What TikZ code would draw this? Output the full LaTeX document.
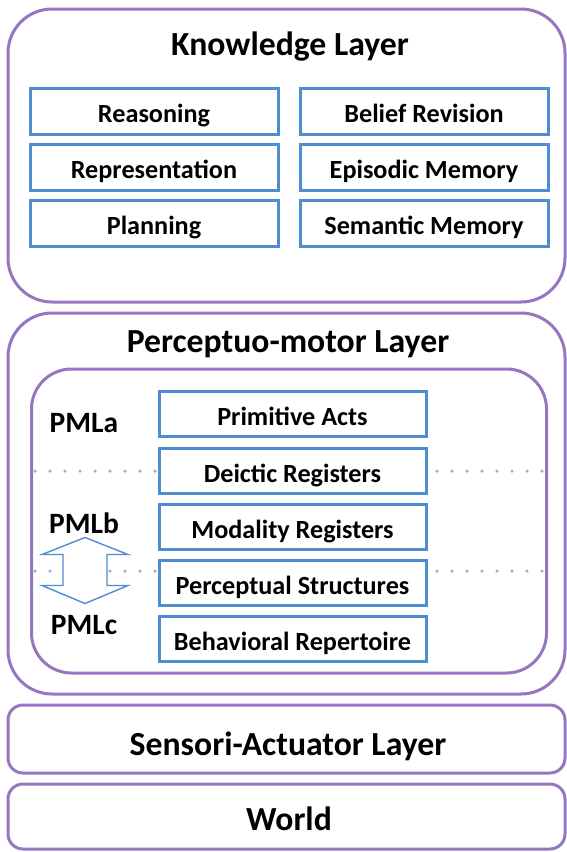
\documentclass[tikz,border=0pt]{standalone}
\usepackage{fontspec}
\usetikzlibrary{calc}
\setmainfont{Carlito}
\definecolor{layerpurple}{RGB}{150,118,192}
\definecolor{boxblue}{RGB}{79,141,208}
\definecolor{dotblue}{RGB}{140,180,226}
\begin{document}
\begin{tikzpicture}[x=1pt,y=-1pt,
  layerbox/.style={draw=layerpurple, line width=3pt, fill=white, inner sep=0pt},
  titletext/.style={font=\bfseries\fontsize{33.7}{38}\selectfont, anchor=base, inner sep=0pt},
  kbox/.style={draw=boxblue, line width=3pt, fill=white, inner sep=0pt,
    minimum width=248pt, minimum height=46pt,
    text height=23pt, text depth=0pt, font=\bfseries\fontsize{26.2}{30}\selectfont},
  pbox/.style={kbox, minimum width=267pt, minimum height=45pt},
  pmltext/.style={font=\bfseries\fontsize{29.5}{33}\selectfont, anchor=base, inner sep=0pt},
  dotline/.style={draw=dotblue, line width=3.5pt, line cap=round, dash pattern=on 0pt off 15pt}]
\useasboundingbox (0,0) rectangle (567,852);

% Knowledge layer
\node[layerbox, rounded corners=44pt, minimum width=557pt, minimum height=293pt] (know) at (286.5,155.5) {};
\node[titletext] (knowtitle) at (290,55) {Knowledge Layer};
\node[kbox] (reason) at (154,111) {Reasoning};
\node[kbox] (repr)   at (154,167) {Representation};
\node[kbox] (plan)   at (154,223) {Planning};
\node[kbox] (belief) at (424,111) {Belief Revision};
\node[kbox] (episod) at (424,167) {Episodic Memory};
\node[kbox] (semant) at (424,223) {Semantic Memory};

% Perceptuo-motor layer
\node[layerbox, rounded corners=44pt, minimum width=557pt, minimum height=381pt] (pml) at (286.5,503.5) {};
\node[titletext] (pmltitle) at (288,352) {Perceptuo-motor Layer};
\node[layerbox, rounded corners=40pt, minimum width=515pt, minimum height=304pt] (pmlin) at (289,521) {};

% sublayer boundaries
\coordinate (d1l) at (35,471);
\coordinate (d1r) at (542,471);
\coordinate (d2l) at (35,571);
\coordinate (d2r) at (542,571);
\coordinate (b1l) at (155,471);
\coordinate (b1r) at (437,471);
\coordinate (b2l) at (155,571);
\coordinate (b2r) at (437,571);
\draw[dotline] (d1l) -- (b1l);
\draw[dotline] (b1r) -- (d1r);
\draw[dotline] (d2l) -- (b2l);
\draw[dotline] (b2r) -- (d2r);

\node[pbox] (prim)  at (292.5,414)   {Primitive Acts};
\node[pbox] (deic)  at (292.5,470.5) {Deictic Registers};
\node[pbox] (modal) at (292.5,527)   {Modality Registers};
\node[pbox] (perc)  at (292.5,582.5) {Perceptual Structures};
\node[pbox] (behav) at (292.5,638.5) {Behavioral Repertoire};

\node[pmltext] (pmla) at (84,432) {PMLa};
\node[pmltext] (pmlb) at (84,533) {PMLb};
\node[pmltext] (pmlc) at (84,634) {PMLc};

% two-way block arrow between PMLb and PMLc
\coordinate (arr) at (85,570.5);
\draw[boxblue, line width=1.4pt, fill=white, line join=miter]
  ($(arr)+(0,-33)$) -- ($(arr)+(43,-16)$) -- ($(arr)+(22,-16)$) -- ($(arr)+(22,15)$)
  -- ($(arr)+(43,15)$) -- ($(arr)+(0,33)$) -- ($(arr)+(-43,15)$) -- ($(arr)+(-22,15)$)
  -- ($(arr)+(-22,-16)$) -- ($(arr)+(-43,-16)$) -- cycle;

% Sensori-actuator layer and world
\node[layerbox, rounded corners=15pt, minimum width=557pt, minimum height=68pt] (sal) at (286.5,739) {};
\node[titletext] (saltitle) at (288,755) {Sensori-Actuator Layer};
\node[layerbox, rounded corners=15pt, minimum width=557pt, minimum height=65pt] (world) at (286.5,816.5) {};
\node[titletext] (worldtitle) at (289,830) {World};
\end{tikzpicture}
\end{document}
